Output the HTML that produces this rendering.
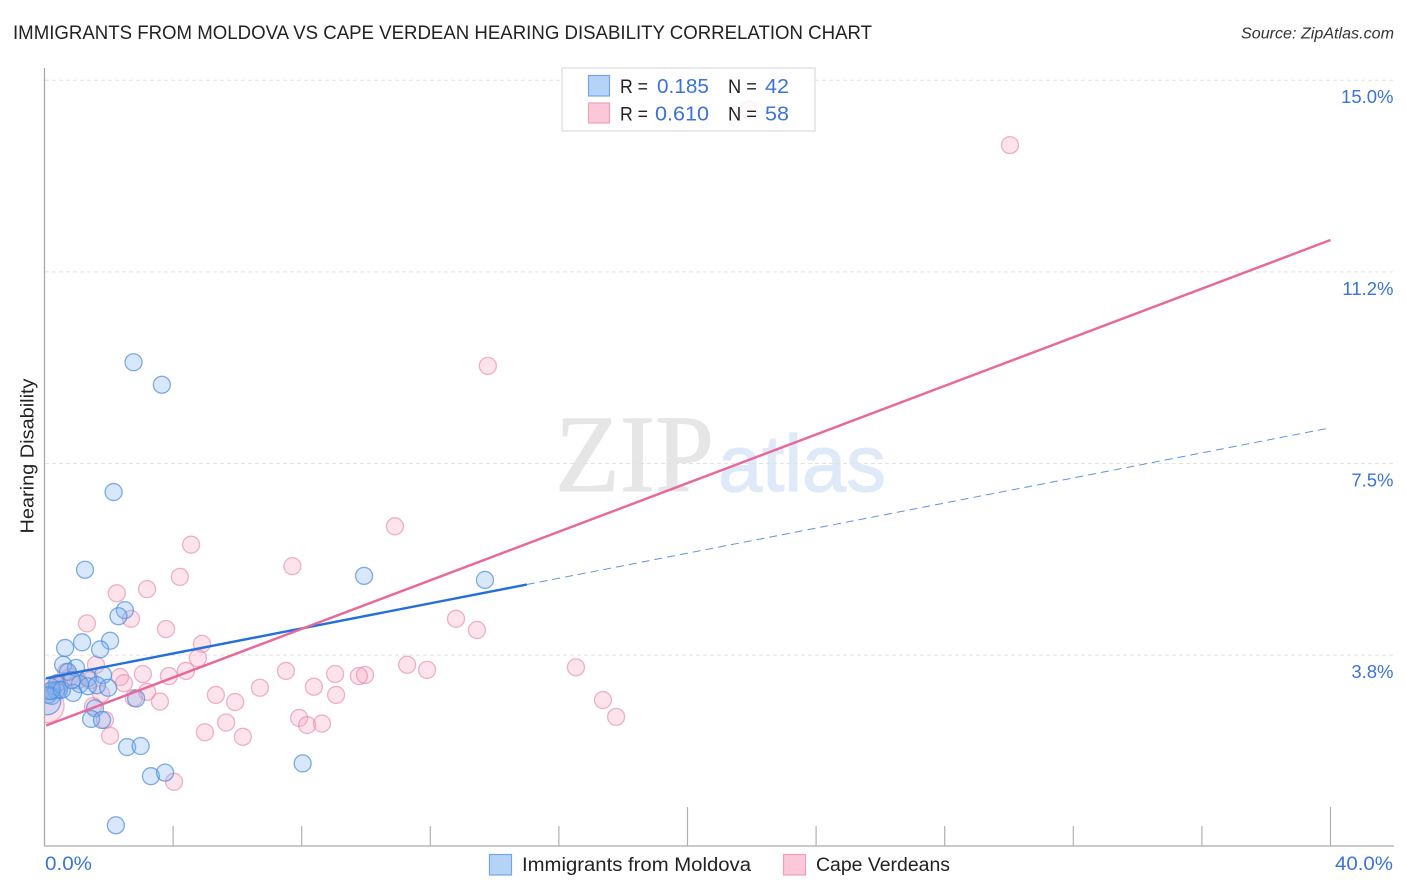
<!DOCTYPE html>
<html lang="en">
<head>
<meta charset="utf-8">
<title>Immigrants from Moldova vs Cape Verdean Hearing Disability Correlation Chart</title>
<style>
html,body{margin:0;padding:0;background:#fff;}
svg{display:block;font-family:"Liberation Sans",sans-serif;}
</style>
</head>
<body>
<svg id="chart" xmlns="http://www.w3.org/2000/svg" width="1406" height="892" viewBox="0 0 1406 892">
  <defs>
    <clipPath id="plot-clip"><rect x="45" y="60" width="1350" height="786"/></clipPath>
  </defs>
  <rect x="0" y="0" width="1406" height="892" fill="#ffffff"/>
  <text x="13" y="39" font-size="19" fill="#222" textLength="859" lengthAdjust="spacingAndGlyphs">IMMIGRANTS FROM MOLDOVA VS CAPE VERDEAN HEARING DISABILITY CORRELATION CHART</text>
  <text x="1241" y="38.5" font-size="15.5" font-style="italic" fill="#333" textLength="153" lengthAdjust="spacingAndGlyphs">Source: ZipAtlas.com</text>

  <g>
    <text x="555" y="491" font-family="'Liberation Serif',serif" font-size="110" fill="#e6e6e6" stroke="#e6e6e6" stroke-width="1" textLength="159" lengthAdjust="spacingAndGlyphs">ZIP</text>
    <text x="718" y="491" font-family="'Liberation Sans',sans-serif" font-size="80" fill="#dfeaf9" stroke="#dfeaf9" stroke-width="1.2" textLength="168" lengthAdjust="spacingAndGlyphs">atlas</text>
  </g>

  <g id="grid"></g>
  <g id="axes"></g>
  <g id="points" clip-path="url(#plot-clip)"></g>
  <g id="lines"></g>

  <text transform="translate(33.5,456) rotate(-90)" text-anchor="middle" font-size="18" fill="#222" textLength="155" lengthAdjust="spacingAndGlyphs">Hearing Disability</text>

  <g>
    <rect x="562" y="68" width="253" height="63" fill="#ffffff" fill-opacity="0.82" stroke="#dddddd" stroke-width="1.2"/>
    <rect x="588.5" y="75.5" width="21" height="20.5" fill="#b5d2f7" stroke="#74a6e6" stroke-width="1.2"/>
    <rect x="588.5" y="103" width="21" height="20" fill="#fcc8d9" stroke="#f09fba" stroke-width="1.2"/>
    <text x="620" y="93" font-size="19.5" fill="#222" textLength="28" lengthAdjust="spacingAndGlyphs">R =</text>
    <text x="657" y="93" font-size="20.5" fill="#3b74d6" textLength="52" lengthAdjust="spacingAndGlyphs">0.185</text>
    <text x="728" y="93" font-size="19.5" fill="#222" textLength="29" lengthAdjust="spacingAndGlyphs">N =</text>
    <text x="765" y="93" font-size="20.5" fill="#3b74d6" textLength="24" lengthAdjust="spacingAndGlyphs">42</text>
    <text x="620" y="120.5" font-size="19.5" fill="#222" textLength="28" lengthAdjust="spacingAndGlyphs">R =</text>
    <text x="655" y="120.5" font-size="20.5" fill="#3b74d6" textLength="54" lengthAdjust="spacingAndGlyphs">0.610</text>
    <text x="728" y="120.5" font-size="19.5" fill="#222" textLength="29" lengthAdjust="spacingAndGlyphs">N =</text>
    <text x="765" y="120.5" font-size="20.5" fill="#3b74d6" textLength="24" lengthAdjust="spacingAndGlyphs">58</text>
  </g>

  <g>
    <g>
      <rect x="489.5" y="854.5" width="22" height="20.5" fill="#b5d2f7" stroke="#74a6e6" stroke-width="1.2"/>
      <text x="522" y="871" font-size="19" fill="#222" textLength="229" lengthAdjust="spacingAndGlyphs">Immigrants from Moldova</text>
    </g>
    <g>
      <rect x="783.5" y="854.5" width="22" height="20.5" fill="#fcc8d9" stroke="#f09fba" stroke-width="1.2"/>
      <text x="816" y="871" font-size="19" fill="#222" textLength="134" lengthAdjust="spacingAndGlyphs">Cape Verdeans</text>
    </g>
  </g>
</svg>
<script>
const moldovaX = [2.77,3.65,2.15,1.26,9.94,13.70,2.50,2.30,1.17,2.04,0.64,1.73,0.58,0.98,0.73,1.82,1.35,0.39,1.10,1.35,1.63,1.98,0.89,0.45,0.20,0.23,2.85,1.57,1.45,1.79,2.57,2.99,3.31,3.75,8.03,2.22,0.36,0.11,0.08,0.16,0.54,0.85];
const moldovaY = [9.48,9.04,6.94,5.42,5.30,5.22,4.63,4.51,4.00,4.03,3.89,3.86,3.56,3.50,3.42,3.36,3.30,3.20,3.18,3.14,3.16,3.11,3.01,3.07,3.05,2.95,2.90,2.71,2.50,2.48,1.95,1.97,1.38,1.45,1.63,0.42,3.06,2.97,2.85,3.09,3.07,3.26];
const moldovaWeight = [1,1,1,1,1,1,1,1,1,1,1,1,1,1,1,1,1,1,1,1,1,1,1,1,1,1,1,1,1,1,1,1,1,1,1,1,1,1,2.6,1.6,1,1];
const capeX = [21.91,30.03,13.79,10.90,4.56,7.71,4.21,2.25,3.19,2.69,1.32,3.78,12.80,13.45,4.90,4.77,1.60,3.06,4.40,3.87,2.35,2.47,11.28,11.90,16.53,7.51,9.04,9.97,9.78,8.38,6.70,9.07,3.19,5.33,5.93,3.59,2.78,1.76,1.51,1.88,2.04,5.65,4.99,6.17,7.92,8.17,8.63,17.37,17.78,4.03,0.79,1.04,0.67,0.33,0.48,0.23,1.42,0.08];
const capeY = [14.42,13.73,9.41,6.27,5.91,5.49,5.28,4.96,5.04,4.46,4.37,4.26,4.46,4.24,3.97,3.69,3.56,3.38,3.44,3.34,3.32,3.20,3.56,3.46,3.51,3.44,3.38,3.36,3.34,3.13,3.11,2.97,3.03,2.97,2.83,2.84,2.91,2.99,2.75,2.48,2.17,2.43,2.24,2.15,2.52,2.38,2.41,2.87,2.54,1.27,3.32,3.26,3.42,3.13,3.16,3.07,3.26,2.76];
const capeWeight = [1,1,1,1,1,1,1,1,1,1,1,1,1,1,1,1,1,1,1,1,1,1,1,1,1,1,1,1,1,1,1,1,1,1,1,1,1,1,1,1,1,1,1,1,1,1,1,1,1,1,1,1,1,1,1,1,1,4];
const yTickValues = [3.75,7.5,11.25,15];
const yTickLabels = ['3.8%','7.5%','11.2%','15.0%'];
const xTickValues = [4,8,12,16,20,24,28,32,36,40];
const xMajorTicks = [20,40];
const xEndValues = [0,40];
const xEndLabels = ['0.0%','40.0%'];
const moldovaTrend = [3.29,0.1227];
const moldovaSolidRange = [0.05,15];
const moldovaDashedRange = [15,40];
const capeTrend = [2.36,0.2378];
const capeRange = [0.05,40];

const NS = 'http://www.w3.org/2000/svg';
function xScale(v){ return 44.5 + v * 32.15; }
function yScale(v){ return 846.7 - v * 51.1; }
function radius(w){ return 8.5 * Math.sqrt(w); }
function make(tag, attrs, parent){
  const el = document.createElementNS(NS, tag);
  for (const k in attrs) el.setAttribute(k, attrs[k]);
  parent.appendChild(el);
  return el;
}
const grid = document.getElementById('grid');
const axes = document.getElementById('axes');
const pts = document.getElementById('points');
const lines = document.getElementById('lines');

yTickValues.forEach(function(v, i){
  const y = yScale(v);
  const line = make('line', {x1:45, x2:1394, y1:y, y2:y, stroke:'#e2e2e2', 'stroke-width':1, 'stroke-dasharray':'4 3'}, grid);
  
  
  const label = make('text', {x:1393.5, y:y + 23, 'text-anchor':'end', 'font-size':18.5, fill:'#3b74d6'}, axes);
  label.textContent = yTickLabels[i];
  
  
});

const yAxis = make('line', {x1:44.5, x2:44.5, y1:68, y2:846.5, stroke:'#aaaaaa', 'stroke-width':1.3}, axes);


const xAxis = make('line', {x1:44, x2:1394, y1:846, y2:846, stroke:'#aaaaaa', 'stroke-width':1.3}, axes);



xTickValues.forEach(function(v){
  const x = xScale(v);
  const top = xMajorTicks.indexOf(v) >= 0 ? 807 : 826;
  const tick = make('line', {x1:x, x2:x, y1:top, y2:846, stroke:'#b0b0b0', 'stroke-width':1.2}, axes);
  
  
});

xEndValues.forEach(function(v, i){
  const first = i === 0;
  const label = make('text', {x: first ? xScale(v) + 0.5 : xScale(v) + 4.5, y:870, 'font-size':19.5, fill:'#3b74d6', textLength: first ? 47 : 58, lengthAdjust:'spacingAndGlyphs'}, axes);
  label.textContent = xEndLabels[i];
  
  
});

capeX.forEach(function(v, i){
  const c = make('circle', {cx:xScale(v), cy:yScale(capeY[i]), r:radius(capeWeight[i]), fill:'#f8a5bf', 'fill-opacity':0.3, stroke:'#e78aa9', 'stroke-opacity':0.65, 'stroke-width':1.3}, pts);
  
  
});
moldovaX.forEach(function(v, i){
  const c = make('circle', {cx:xScale(v), cy:yScale(moldovaY[i]), r:radius(moldovaWeight[i]), fill:'#7fb2f0', 'fill-opacity':0.3, stroke:'#4a8ae0', 'stroke-opacity':0.7, 'stroke-width':1.3}, pts);
  
  
});

function trendY(t, x){ return t[0] + t[1] * x; }
const dashed = make('line', {x1:xScale(moldovaDashedRange[0]), y1:yScale(trendY(moldovaTrend, moldovaDashedRange[0])), x2:xScale(moldovaDashedRange[1]), y2:yScale(trendY(moldovaTrend, moldovaDashedRange[1])), stroke:'#3b78d8', 'stroke-opacity':0.8, 'stroke-width':1, 'stroke-dasharray':'8 5'}, lines);


const blue = make('line', {x1:xScale(moldovaSolidRange[0]), y1:yScale(trendY(moldovaTrend, moldovaSolidRange[0])), x2:xScale(moldovaSolidRange[1]), y2:yScale(trendY(moldovaTrend, moldovaSolidRange[1])), stroke:'#2470d8', 'stroke-width':2.4}, lines);


const pink = make('line', {x1:xScale(capeRange[0]), y1:yScale(trendY(capeTrend, capeRange[0])), x2:xScale(capeRange[1]), y2:yScale(trendY(capeTrend, capeRange[1])), stroke:'#e8689a', 'stroke-width':2.4}, lines);


</script>
</body>
</html>
